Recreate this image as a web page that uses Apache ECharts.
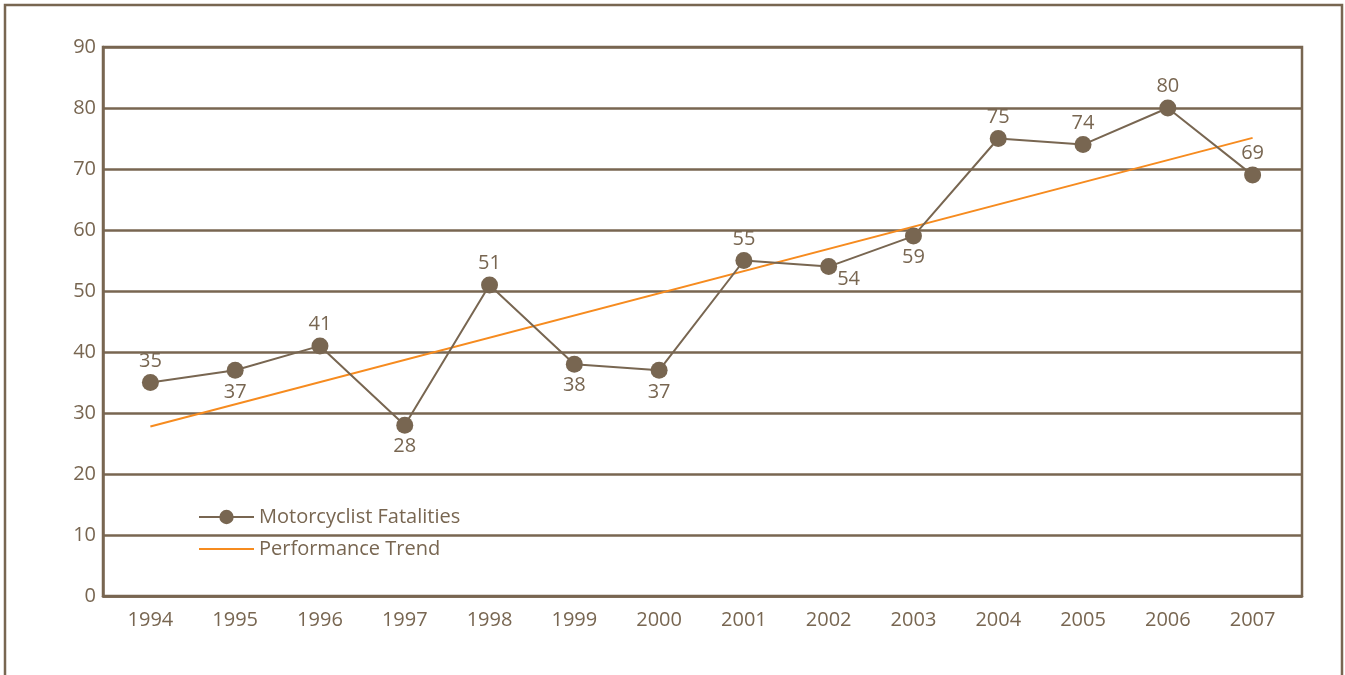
<!DOCTYPE html>
<html>
<head>
<meta charset="utf-8">
<script src="https://cdn.jsdelivr.net/npm/echarts@6/dist/echarts.min.js"></script>
<style>
html,body{margin:0;padding:0;background:#fff;}
#chart{width:1345px;height:675px;}
</style>
</head>
<body>
<div id="chart"></div>
<script>
const years = ['1994','1995','1996','1997','1998','1999','2000','2001','2002','2003','2004','2005','2006','2007'];
const fatalities = [35, 37, 41, 28, 51, 38, 37, 55, 54, 59, 75, 74, 80, 69];
const trendYears = ['1994', '2007'];
const trendValues = [27.8, 75.1];
const yTicks = [0, 10, 20, 30, 40, 50, 60, 70, 80, 90];

const labelPlacement = ['top','bottom','top','bottom','top','bottom','bottom','top','right','bottom','top','top','top','top'];

const BROWN = '#786651';
const ORANGE = '#f68b1f';
const FONT = 'Open Sans';
const FS = 20;

const fatalData = fatalities.map((v, i) => {
  const p = labelPlacement[i];
  if (p === 'right') return { value: v, label: { position: 'right', offset: [-3, 13] } };
  return { value: v, label: { position: p } };
});

const chart = echarts.init(document.getElementById('chart'));
chart.setOption({
  animation: false,
  backgroundColor: '#fff',
  textStyle: { fontFamily: FONT },
  graphic: [{
    type: 'rect',
    shape: { x: 5, y: 5, width: 1337, height: 720 },
    style: { fill: 'none', stroke: BROWN, lineWidth: 2.5 },
    silent: true
  }],
  grid: [
    { left: 103, right: 43, top: 47, bottom: 79, show: true, borderColor: BROWN, borderWidth: 2.5 },
    { left: 108, right: 50, top: 47, bottom: 79 }
  ],
  legend: {
    orient: 'vertical',
    left: 193, top: 502,
    itemWidth: 55, itemHeight: 18, itemGap: 12,
    textStyle: { color: BROWN, fontSize: FS, fontFamily: FONT },
    data: [
      { name: 'Motorcyclist Fatalities' },
      { name: 'Performance Trend', icon: 'path://M0,0 L55,0 L55,2 L0,2 Z' }
    ]
  },
  xAxis: [
    {
      type: 'category', gridIndex: 0, data: years,
      axisLine: { show: true, lineStyle: { color: BROWN, width: 2.5 } },
      axisTick: { show: false }, axisLabel: { show: false }, splitLine: { show: false }
    },
    {
      type: 'category', gridIndex: 1, data: years, boundaryGap: true,
      axisLine: { show: false }, axisTick: { show: false },
      axisLabel: { color: BROWN, fontSize: FS, margin: 14, fontFamily: FONT },
      splitLine: { show: false }
    }
  ],
  yAxis: [
    {
      type: 'value', gridIndex: 0,
      min: yTicks[0], max: yTicks[yTicks.length - 1], interval: 10,
      axisLine: { show: true, lineStyle: { color: BROWN, width: 2.5 } },
      axisTick: { show: false },
      axisLabel: { color: BROWN, fontSize: FS, margin: 7, fontFamily: FONT },
      splitLine: { show: true, lineStyle: { color: BROWN, width: 2.5 } }
    },
    {
      type: 'value', gridIndex: 1,
      min: yTicks[0], max: yTicks[yTicks.length - 1], interval: 10,
      axisLine: { show: false }, axisTick: { show: false },
      axisLabel: { show: false }, splitLine: { show: false }
    }
  ],
  series: [
    {
      name: 'Motorcyclist Fatalities',
      type: 'line', xAxisIndex: 1, yAxisIndex: 1,
      data: fatalData,
      symbol: 'circle', symbolSize: 17, z: 3,
      itemStyle: { color: BROWN },
      lineStyle: { color: BROWN, width: 2 },
      label: { show: true, color: BROWN, fontSize: FS, fontFamily: FONT, distance: 3 }
    },
    {
      name: 'Performance Trend',
      type: 'line', xAxisIndex: 1, yAxisIndex: 1,
      data: trendYears.map((y, i) => [y, trendValues[i]]),
      symbol: 'none', z: 2,
      itemStyle: { color: ORANGE },
      lineStyle: { color: ORANGE, width: 2 }
    }
  ]
});
</script>
</body>
</html>
